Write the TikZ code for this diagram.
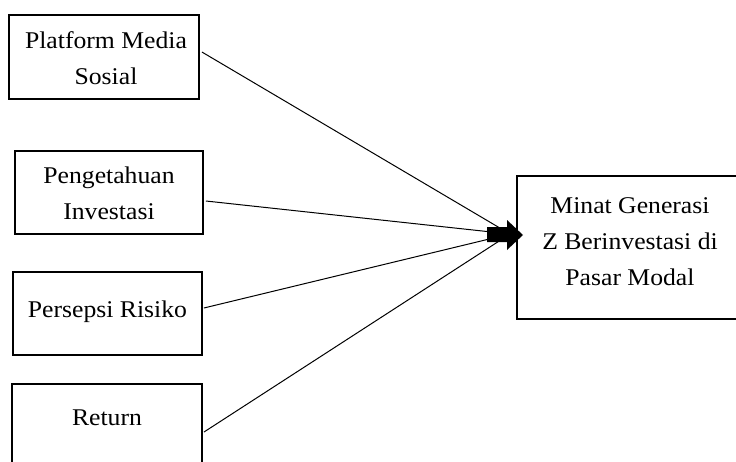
\documentclass[tikz,border=0pt]{standalone}
\usepackage{fontspec}
\setmainfont{Liberation Serif}[FakeStretch=1.07]
\begin{document}
\begin{tikzpicture}[x=1pt,y=-1pt,
  box/.style={draw, line width=1.8pt, inner sep=0pt},
  lbl/.style={align=center, font=\fontsize{24}{36}\selectfont, inner sep=0pt},
  conn/.style={line width=1pt}]
\useasboundingbox (0,0) rectangle (736,461);
\clip (0,0) rectangle (736,461);
% boxes
\node[box, minimum width=190pt, minimum height=84pt] (b1) at (104,57) {};
\node[lbl] (t1) at (106,58) {Platform Media\\Sosial};
\node[box, minimum width=188pt, minimum height=83pt] (b2) at (109,192.5) {};
\node[lbl] (t2) at (109,193.5) {Pengetahuan\\Investasi};
\node[box, minimum width=189pt, minimum height=83pt] (b3) at (107.5,313.5) {};
\node[lbl] (t3) at (107.5,312) {Persepsi Risiko};
\node[box, minimum width=190pt, minimum height=100pt, anchor=north] (b4) at (107,383) {};
\node[lbl] (t4) at (107,418) {Return};
\node[box, minimum width=226pt, minimum height=143pt] (b5) at (630,247.5) {};
\node[lbl] (t5) at (630,241.5) {Minat Generasi\\Z Berinvestasi di\\Pasar Modal};
% connectors
\coordinate (hub) at (510,234);
\coordinate (tip) at (523,235);
\coordinate (s4) at (204,432);
\draw[conn] ([xshift=2pt,yshift=5pt]b1.east) -- (hub);
\draw[conn] ([xshift=2pt,yshift=-8.5pt]b2.east) -- (hub);
\draw[conn] ([xshift=1pt,yshift=5.5pt]b3.east) -- (hub);
\draw[conn] (s4) -- (hub);
% block arrow
\fill ([xshift=-36pt,yshift=-7pt]tip) -- ([xshift=-16pt,yshift=-7pt]tip)
  -- ([xshift=-16pt,yshift=-15pt]tip) -- (tip)
  -- ([xshift=-16pt,yshift=15pt]tip) -- ([xshift=-16pt,yshift=8pt]tip)
  -- ([xshift=-36pt,yshift=8pt]tip) -- cycle;
\end{tikzpicture}
\end{document}
